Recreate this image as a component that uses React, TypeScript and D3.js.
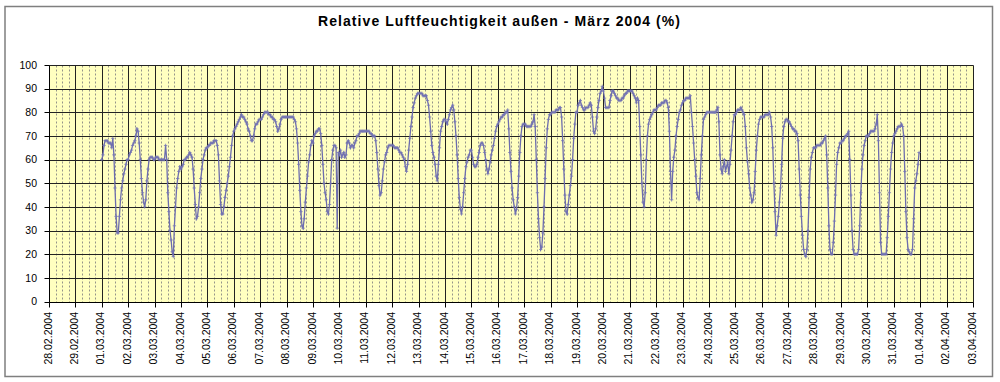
import React from "react";
import * as d3 from "d3";

const TITLE = "Relative Luftfeuchtigkeit außen - März 2004 (%)";
const yTicks = [0, 10, 20, 30, 40, 50, 60, 70, 80, 90, 100];
const axisStart = Date.UTC(2004, 1, 28);
const axisEnd = Date.UTC(2004, 3, 3);
const seriesStart = Date.UTC(2004, 2, 1);

// Hourly relative humidity (%), 01.03.–07.03.2004
const week1 = [
  60,62,66,68,68,68,67,67,67,65,69,62,48,36,29,29,36,43,48,51,54,56,58,60,
  60,62,63,64,66,67,68,70,73,72,67,60,52,46,42,40,43,51,56,60,61,61,61,60,
  60,61,61,61,60,60,60,60,60,60,66,60,46,38,30,26,21,19,32,40,48,52,55,57,
  56,57,58,60,60,61,61,62,63,62,61,56,48,41,35,36,40,46,52,56,60,62,64,65,
  65,66,66,67,67,67,68,68,68,66,62,51,41,37,37,40,44,47,50,53,57,61,66,70,
  72,73,74,75,76,77,78,79,78,78,77,76,75,73,72,70,68,68,70,73,75,75,76,77,
  77,77,78,79,80,80,80,80,79,79,78,78,77,77,76,74,72,73,75,77,78,78,78,78,
];
// 08.03.–14.03.2004
const week2 = [
  78,78,78,78,78,78,78,77,76,73,67,58,47,38,32,31,35,42,48,53,59,62,66,68,
  67,70,71,72,72,73,73,71,66,58,50,46,43,38,37,41,50,60,64,66,66,65,31,63,
  62,64,61,62,63,61,62,67,68,67,65,66,66,65,67,68,70,70,71,72,72,72,72,72,
  72,72,72,72,71,71,70,70,70,68,63,56,49,45,46,51,56,59,62,63,65,66,66,66,
  66,66,65,65,65,65,64,63,63,62,61,60,57,55,58,64,69,74,78,82,84,86,87,88,
  88,88,88,88,87,87,87,87,85,83,78,72,66,63,61,58,53,51,58,65,72,74,76,77,
  77,76,75,77,79,81,82,83,81,76,70,62,52,44,39,37,40,46,52,57,59,61,62,64,
];
// 15.03.–21.03.2004
const week3 = [
  64,61,58,57,57,58,61,63,66,67,67,66,63,60,56,54,56,59,62,64,66,69,72,74,
  75,76,77,78,78,79,79,80,80,81,73,63,55,48,43,40,37,39,44,53,63,70,74,75,
  75,75,74,74,74,74,74,75,76,79,74,60,46,35,27,22,23,29,40,52,65,73,77,79,
  79,80,80,80,80,81,81,81,82,82,78,68,56,45,38,37,41,45,49,53,60,69,75,80,
  80,83,84,85,83,82,81,81,82,82,82,83,84,83,78,72,71,73,78,82,85,88,89,91,
  89,86,82,82,82,82,85,87,89,89,88,87,86,86,85,85,85,86,86,87,88,88,89,89,
  89,89,89,88,87,86,84,86,85,74,62,50,42,40,46,60,70,75,77,78,79,80,81,81,
];
// 22.03.–28.03.2004
const week4 = [
  81,82,83,83,83,84,84,84,85,85,84,82,72,55,43,55,61,64,70,74,77,80,81,83,
  84,85,85,86,86,86,86,87,80,74,67,60,53,46,44,43,52,62,70,77,78,79,80,80,
  80,80,80,80,80,80,80,81,82,76,62,56,54,57,60,55,57,59,54,58,64,70,76,79,
  79,80,81,81,81,82,81,80,79,74,65,59,54,48,45,42,43,46,55,64,70,75,77,78,
  78,78,78,79,79,79,79,80,78,74,65,50,38,28,32,36,42,48,58,69,74,76,77,77,
  76,76,75,74,73,73,72,72,71,68,56,45,36,28,22,20,19,22,30,44,56,61,63,65,
  65,65,66,66,66,66,67,67,68,69,70,62,48,32,22,20,20,25,34,45,58,63,65,67,
];
// 29.03.–31.03.2004
const week5 = [
  67,68,68,69,70,70,71,72,60,45,30,22,20,20,20,20,22,32,46,56,62,66,68,70,
  70,70,71,72,72,72,72,73,75,79,68,46,25,20,20,20,20,20,27,36,46,56,63,67,
  70,71,72,73,74,74,74,75,74,70,55,38,27,22,21,20,20,22,35,48,51,54,58,63,
];

const humidity = [...week1, ...week2, ...week3, ...week4, ...week5];

const FONT = "'Liberation Sans', Arial, sans-serif";

export default function App() {
  const W = 1000;
  const H = 382;
  const x = d3
    .scaleUtc()
    .domain([new Date(axisStart), new Date(axisEnd)])
    .range([49, 973]);
  const y = d3.scaleLinear().domain([0, 100]).range([301.5, 65]);

  const days = d3.utcDay.range(new Date(axisStart), new Date(axisEnd + 1));
  const minors = d3.utcHour
    .every(6)!
    .range(new Date(axisStart), new Date(axisEnd))
    .filter((d) => d.getUTCHours() !== 0);
  const fmt = d3.utcFormat("%d.%m.%Y");

  const pts: [number, number][] = humidity.map((v, i) => [
    x(new Date(seriesStart + i * 3600e3)),
    y(v),
  ]);
  const linePath = d3.line()(pts) || "";
  const s = 1.7;
  const markers = pts
    .map(([px, py]) => `M${px - s},${py}h${2 * s}M${px},${py - s}v${2 * s}`)
    .join("");

  const crisp = (v: number) => Math.round(v) + 0.5;
  const x0 = crisp(x(new Date(axisStart)));
  const x1 = crisp(x(new Date(axisEnd)));
  const yb = crisp(y(0));
  const yt = crisp(y(100));

  return (
    <div style={{ position: "fixed", left: 0, top: 0, width: W, height: H, background: "#fff" }}>
      <svg width={W} height={H} style={{ display: "block" }} fontFamily={FONT}>
        <rect x={0} y={0} width={W} height={H} fill="#fff" />
        <rect x={5} y={6.5} width={987.5} height={370} fill="#fff" stroke="#7f7f7f" strokeWidth={1.5} />
        <text
          x={499}
          y={26}
          textAnchor="middle"
          fontSize={14}
          fontWeight="bold"
          fill="#000"
          textLength={362}
          lengthAdjust="spacing"
        >
          {TITLE}
        </text>
        <rect x={x0} y={yt} width={x1 - x0} height={yb - yt} fill="#FFFFC0" />
        {minors.map((d, i) => (
          <line
            key={"m" + i}
            x1={crisp(x(d))}
            x2={crisp(x(d))}
            y1={yt}
            y2={yb}
            stroke="#94948a"
            strokeWidth={1}
            strokeDasharray="2,2"
          />
        ))}
        {yTicks.map((t) => (
          <line key={"h" + t} x1={x0} x2={x1} y1={crisp(y(t))} y2={crisp(y(t))} stroke="#222" strokeWidth={1} />
        ))}
        {days.map((d, i) => (
          <line key={"v" + i} x1={crisp(x(d))} x2={crisp(x(d))} y1={yt} y2={yb} stroke="#222" strokeWidth={1} />
        ))}
        {yTicks.map((t) => (
          <g key={"yt" + t}>
            <line x1={x0 - 5} x2={x0} y1={crisp(y(t))} y2={crisp(y(t))} stroke="#000" />
            <text x={37} y={y(t)} dy="0.35em" textAnchor="end" fontSize={10.5} fill="#000">
              {t}
            </text>
          </g>
        ))}
        {days.map((d, i) => (
          <g key={"xt" + i}>
            <line x1={crisp(x(d))} x2={crisp(x(d))} y1={yb} y2={yb + 5} stroke="#000" />
            <text
              transform={`translate(${x(d) - 1},${312}) rotate(-90)`}
              dy="0.35em"
              textAnchor="end"
              fontSize={10.5}
              fill="#000"
            >
              {fmt(d)}
            </text>
          </g>
        ))}
        <line x1={x0} x2={x0} y1={yt} y2={yb} stroke="#000" />
        <line x1={x0} x2={x1} y1={yb} y2={yb} stroke="#000" />
        <path d={linePath} fill="none" stroke="#6c6cae" strokeWidth={1.3} />
        <path d={markers} fill="none" stroke="#7474b4" strokeWidth={0.8} />
      </svg>
    </div>
  );
}
